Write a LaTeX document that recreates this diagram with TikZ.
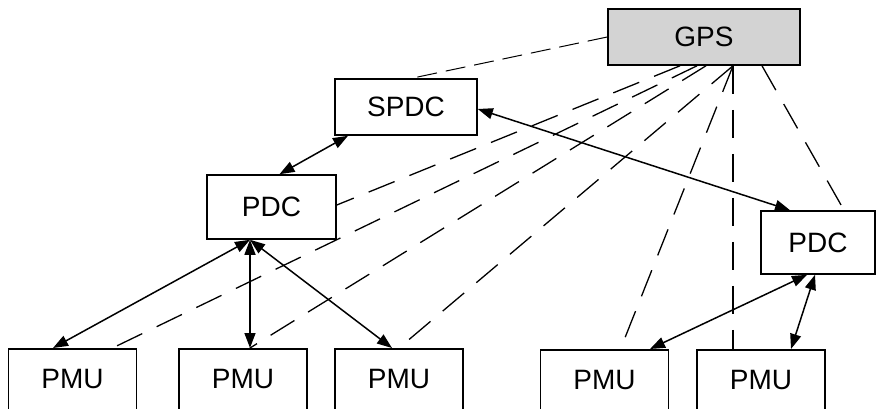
\documentclass[tikz,border=0pt]{standalone}
\usepackage{fontspec}
\setmainfont{Liberation Sans}
\usetikzlibrary{arrows.meta}
\definecolor{gpsgray}{RGB}{211,211,211}
\begin{document}
\begin{tikzpicture}[x=1pt,y=-1pt,
  box/.style={draw=black, line width=1.6pt, fill=white, inner sep=0pt,
    font=\fontsize{28}{28}\selectfont},
  unitbox/.style={box, anchor=north, minimum width=128pt, text height=20pt,
    text depth=60pt, inner ysep=20pt},
  link/.style={line width=1.5pt, {Triangle[length=15pt,width=11pt]}-{Triangle[length=15pt,width=11pt]}},
  sync/.style={line width=1.3pt, dash pattern=on 28pt off 16pt},
  syncthin/.style={line width=1.0pt, dash pattern=on 20pt off 9pt}]
\useasboundingbox (0,0) rectangle (877,409);
\clip (0,0) rectangle (877,409);

% clock source and concentrators
\node[box, fill=gpsgray, minimum width=192pt, minimum height=56pt] (gps) at (704,37) {GPS};
\node[box, minimum width=142pt, minimum height=56pt] (spdc) at (406,107) {SPDC};
\node[box, minimum width=129pt, minimum height=64pt] (pdcl) at (271.5,207) {PDC};
\node[box, minimum width=114pt, minimum height=63pt] (pdcr) at (818,242.5) {PDC};

% measurement units (boxes run past the lower edge)
\node[unitbox] (pmu1) at (72.5,348) {PMU};
\node[unitbox] (pmu2) at (243,348) {PMU};
\node[unitbox] (pmu3) at (399,348) {PMU};
\node[unitbox] (pmu4) at (604.5,349) {PMU};
\node[unitbox] (pmu5) at (761,349) {PMU};

% time synchronisation from GPS
\draw[syncthin] (gps.west) -- ([xshift=6pt]spdc.north);
\draw[sync] ([xshift=-24pt]gps.south) -- ([yshift=2pt]pdcl.east);
\draw[sync] ([xshift=-7pt]gps.south) -- ([xshift=40pt]pmu1.north);
\draw[sync] ([xshift=2pt]gps.south) -- ([xshift=7pt]pmu2.north);
\draw[sync] ([xshift=29pt]gps.south) -- (pmu3.north);
\draw[sync] ([xshift=29pt]gps.south) -- ([xshift=16pt]pmu4.north);
\draw[sync] ([xshift=29pt]gps.south) -- ([xshift=-28pt]pmu5.north);
\draw[sync] ([xshift=58pt]gps.south) -- ([xshift=26pt]pdcr.north);

% data links
\draw[link] ([xshift=-58pt]spdc.south) -- ([xshift=8pt]pdcl.north);
\draw[link] ([yshift=-2pt]spdc.east) -- ([xshift=-28pt]pdcr.north);
\draw[link] ([xshift=-21.5pt]pdcl.south) -- ([xshift=-19.5pt]pmu1.north);
\draw[link] ([xshift=-21.5pt]pdcl.south) -- ([xshift=7pt]pmu2.north);
\draw[link] ([xshift=-21.5pt]pdcl.south) -- ([xshift=-7pt]pmu3.north);
\draw[link] ([xshift=-11pt]pdcr.south) -- ([xshift=45.5pt]pmu4.north);
\draw[link] ([xshift=-3pt]pdcr.south) -- ([xshift=30pt]pmu5.north);
\end{tikzpicture}
\end{document}
